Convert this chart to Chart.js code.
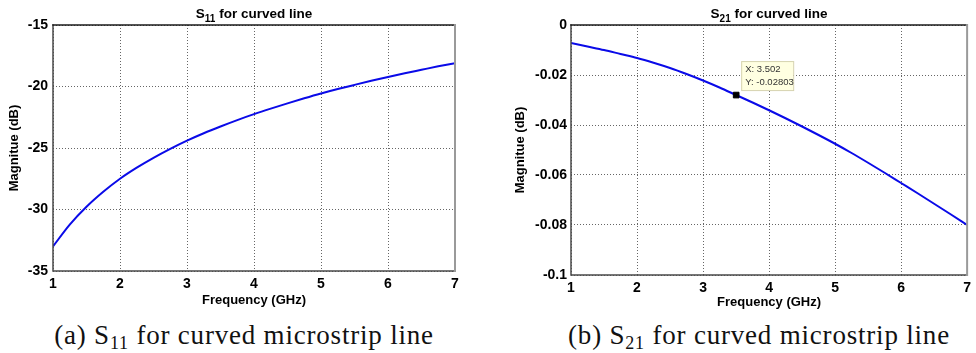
<!DOCTYPE html>
<html>
<head>
<meta charset="utf-8">
<script src="https://cdn.jsdelivr.net/npm/chart.js@4.4.1/dist/chart.umd.min.js"></script>
<style>
  html, body { margin: 0; padding: 0; background: #fff; }
  body { width: 976px; height: 353px; position: relative; overflow: hidden; }
  .panel { position: absolute; top: 0; width: 488px; height: 312px; }
  .caption {
    position: absolute; top: 320px; width: 488px; text-align: center; white-space: nowrap;
    font-family: "Liberation Serif", "DejaVu Serif", serif; font-size: 27px; letter-spacing: 0.8px; color: #111;
  }
  .caption sub { font-size: 18px; vertical-align: -5px; line-height: 0; }
</style>
</head>
<body>
<div class="panel" style="left:0"><canvas id="s11Chart" width="488" height="312"></canvas></div>
<div class="panel" style="left:488px"><canvas id="s21Chart" width="488" height="312"></canvas></div>
<div class="caption" style="left:0">(a) S<sub>11</sub> for curved microstrip line</div>
<div class="caption" style="left:515px">(b) S<sub>21</sub> for curved microstrip line</div>

<script>
// ___________ data ___________ //
const freqGHz = [1, 1.25, 1.5, 1.75, 2, 2.25, 2.5, 2.75, 3, 3.25, 3.5, 3.75, 4, 4.25, 4.5, 4.75, 5, 5.25, 5.5, 5.75, 6, 6.25, 6.5, 6.75, 7];
const s11dB = [-33, -31.23, -29.78, -28.56, -27.5, -26.6, -25.8, -25.07, -24.4, -23.8, -23.25, -22.73, -22.25,
  -21.8, -21.37, -20.96, -20.57, -20.21, -19.87, -19.54, -19.22, -18.92, -18.64, -18.36, -18.1];
const s21dB = [-0.0072, -0.0086, -0.0100, -0.0116, -0.0132, -0.0151, -0.0172, -0.0196, -0.0222, -0.0250, -0.0280, -0.0310, -0.0341,
  -0.0373, -0.0406, -0.0440, -0.0475, -0.0512, -0.0551, -0.0591, -0.0632, -0.0673, -0.0715, -0.0757, -0.0800];
const xTicks = [1, 2, 3, 4, 5, 6, 7];
const s11Ticks = [-35, -30, -25, -20, -15];
const s21Ticks = [-0.1, -0.08, -0.06, -0.04, -0.02, 0];
const tipX = 3.502;
const tipY = -0.02803;

const FONT = "'Liberation Sans', Arial, sans-serif";

// ___________ plugins ___________ //
// MATLAB style box around the axes + title with subscript
const boxPlugin = {
  id: "matBox",
  afterDatasetsDraw(chart, args, opts) {
    const { ctx, chartArea: a } = chart;
    ctx.save();
    ctx.lineCap = "square";
    ctx.strokeStyle = "#4a4a4a"; ctx.lineWidth = 1.5;
    ctx.beginPath();
    ctx.moveTo(a.left, a.top); ctx.lineTo(a.left, a.bottom); ctx.lineTo(a.right, a.bottom);
    ctx.stroke();
    ctx.strokeStyle = "#1a1a1a"; ctx.lineWidth = 1.5;
    ctx.beginPath(); ctx.moveTo(a.left, a.top); ctx.lineTo(a.right, a.top); ctx.stroke();
    ctx.strokeStyle = "#9a9a9a"; ctx.lineWidth = 2;
    ctx.beginPath(); ctx.moveTo(a.right, a.top); ctx.lineTo(a.right, a.bottom); ctx.stroke();

    // title: S<sub>xx</sub> for curved line
    const main = "bold 13.5px " + FONT, small = "bold 10px " + FONT;
    ctx.fillStyle = "#000";
    ctx.textBaseline = "alphabetic";
    ctx.font = main; const wS = ctx.measureText("S").width;
    const rest = " for curved line"; const wR = ctx.measureText(rest).width;
    ctx.font = small; const wSub = ctx.measureText(opts.sub).width;
    let x = (a.left + a.right) / 2 - (wS + wSub + wR) / 2;
    const y = 18;
    ctx.font = main; ctx.fillText("S", x, y); x += wS;
    ctx.font = small; ctx.fillText(opts.sub, x, y + 4); x += wSub;
    ctx.font = main; ctx.fillText(rest, x, y);
    ctx.restore();
  },
};

// data tip box next to the marked point
const tipPlugin = {
  id: "dataTip",
  afterDatasetsDraw(chart) {
    const { ctx, scales } = chart;
    const px = scales.x.getPixelForValue(tipX);
    const py = scales.y.getPixelForValue(tipY);
    const bx = px + 5, by = py - 34, bw = 52, bh = 29;
    ctx.save();
    ctx.fillStyle = "#ffffe1";
    ctx.strokeStyle = "#d6d3b0";
    ctx.lineWidth = 1;
    ctx.fillRect(bx, by, bw, bh);
    ctx.strokeRect(bx + 0.5, by + 0.5, bw, bh);
    ctx.fillStyle = "#333";
    ctx.font = "9.5px " + FONT;
    ctx.textBaseline = "middle";
    ctx.fillText("X: " + tipX, bx + 4, by + 8);
    ctx.fillText("Y: " + tipY, bx + 4, by + 21);
    ctx.restore();
  },
};

function makeChart(id, opt) {
  const ctx = document.getElementById(id).getContext("2d");
  const datasets = [
    {
      data: freqGHz.map((f, i) => ({ x: f, y: opt.values[i] })),
      borderColor: "#0a0ae8",
      borderWidth: 2,
      pointRadius: 0,
      cubicInterpolationMode: "monotone",
      order: 2,
    },
  ];
  if (opt.tip) {
    datasets.push({
      data: [{ x: tipX, y: tipY }],
      showLine: false,
      pointStyle: "rect",
      pointRadius: 4,
      pointBackgroundColor: "#000",
      pointBorderColor: "#000",
      order: 1,
    });
  }
  return new Chart(ctx, {
    type: "line",
    data: { datasets: datasets },
    plugins: opt.tip ? [boxPlugin, tipPlugin] : [boxPlugin],
    options: {
      responsive: false,
      animation: false,
      layout: { padding: { left: 0, right: opt.padRight, top: 25, bottom: 0 } },
      plugins: {
        legend: { display: false },
        tooltip: { enabled: false },
        matBox: { sub: opt.sub },
      },
      scales: {
        x: {
          type: "linear",
          min: 1,
          max: 7,
          afterBuildTicks: (s) => { s.ticks = xTicks.map((v) => ({ value: v })); },
          afterFit: (s) => { s.height = opt.xHeight; },
          grid: { color: "#666", drawTicks: false, tickLength: 0 },
          border: { display: false, dash: [1, 2] },
          ticks: { color: "#000", padding: 5, font: { family: FONT, size: 14, weight: "bold" } },
          title: {
            display: true,
            text: "Frequency (GHz)",
            color: "#000",
            font: { family: FONT, size: 13, weight: "bold" },
            padding: { top: 0, bottom: opt.xTitlePad },
          },
        },
        y: {
          min: opt.min,
          max: opt.max,
          afterBuildTicks: (s) => { s.ticks = opt.ticks.map((v) => ({ value: v })); },
          afterFit: (s) => { s.width = opt.yWidth; },
          grid: { color: "#666", drawTicks: false, tickLength: 0 },
          border: { display: false, dash: [1, 2] },
          ticks: {
            color: "#000",
            padding: opt.yTickPad,
            font: { family: FONT, size: 14, weight: "bold" },
            callback: (v) => String(v),
          },
          title: {
            display: true,
            text: "Magnitue (dB)",
            color: "#000",
            font: { family: FONT, size: 13, weight: "bold" },
            padding: { top: opt.yTitlePad, bottom: 0 },
          },
        },
      },
    },
  });
}

makeChart("s11Chart", {
  values: s11dB, ticks: s11Ticks, min: -35, max: -15, sub: "11",
  padRight: 33, yWidth: 53, xHeight: 41, xTitlePad: 4, yTitlePad: 7, yTickPad: 5, tip: false,
});
makeChart("s21Chart", {
  values: s21dB, ticks: s21Ticks, min: -0.1, max: 0, sub: "21",
  padRight: 4, yWidth: 83, xHeight: 37, xTitlePad: 2, yTitlePad: 25, yTickPad: 4, tip: true,
});
</script>
</body>
</html>
